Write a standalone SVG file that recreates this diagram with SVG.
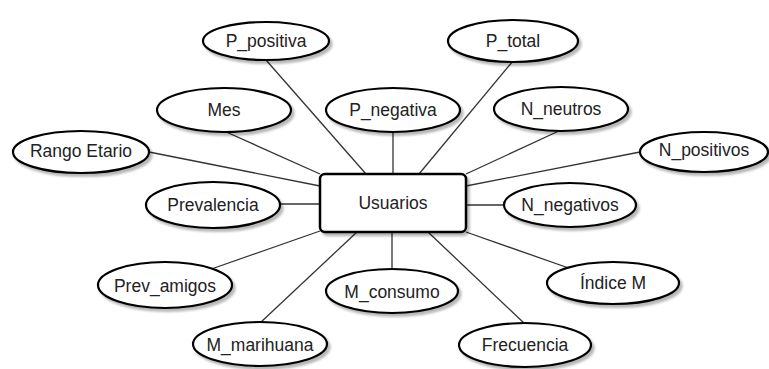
<svg xmlns="http://www.w3.org/2000/svg" width="769" height="369" viewBox="0 0 769 369">
  <style>
    .attr ellipse { fill: #ffffff; stroke: #000000; stroke-width: 2.2; filter: url(#shadow); }
    .entity rect { fill: #ffffff; stroke: #000000; stroke-width: 2.5; filter: url(#shadow); }
    text { font-family: "Liberation Sans", Arial, sans-serif; font-size: 17.5px; fill: #222222; text-anchor: middle; dominant-baseline: central; }
    #connectors line { stroke: #333333; stroke-width: 1.3; }
  </style>
  <defs>
    <filter id="shadow" x="-20%" y="-30%" width="140%" height="160%">
      <feDropShadow dx="2.5" dy="3" stdDeviation="1.2" flood-color="#000000" flood-opacity="0.28"/>
    </filter>
  </defs>
  <rect x="0" y="0" width="769" height="369" fill="#ffffff"/>

  <g id="connectors">
    <line x1="266" y1="60" x2="366" y2="174"/>
    <line x1="513" y1="61" x2="419" y2="174"/>
    <line x1="393" y1="131" x2="393" y2="174"/>
    <line x1="224" y1="131" x2="320" y2="174"/>
    <line x1="149" y1="152" x2="320" y2="186"/>
    <line x1="561" y1="130" x2="466" y2="174"/>
    <line x1="640" y1="152" x2="466" y2="186"/>
    <line x1="280" y1="204" x2="320" y2="204"/>
    <line x1="466" y1="205" x2="504" y2="205"/>
    <line x1="320" y1="231" x2="200" y2="273"/>
    <line x1="357" y1="232" x2="260" y2="323"/>
    <line x1="392" y1="232" x2="392" y2="270"/>
    <line x1="428" y1="232" x2="525" y2="324"/>
    <line x1="466" y1="232" x2="580" y2="272"/>
  </g>

  <g id="usuarios" class="entity">
    <rect x="320" y="174" width="146" height="58" rx="5" ry="5"/>
    <text x="393" y="203">Usuarios</text>
  </g>

  <g id="p_positiva" class="attr">
    <ellipse cx="266" cy="41" rx="63" ry="19"/>
    <text x="266" y="41">P_positiva</text>
  </g>
  <g id="p_total" class="attr">
    <ellipse cx="513" cy="41" rx="65" ry="21"/>
    <text x="513" y="41">P_total</text>
  </g>
  <g id="mes" class="attr">
    <ellipse cx="224" cy="110" rx="67" ry="22"/>
    <text x="224" y="110">Mes</text>
  </g>
  <g id="p_negativa" class="attr">
    <ellipse cx="393" cy="110" rx="67" ry="22"/>
    <text x="393" y="110">P_negativa</text>
  </g>
  <g id="n_neutros" class="attr">
    <ellipse cx="561" cy="109" rx="67" ry="22"/>
    <text x="561" y="109">N_neutros</text>
  </g>
  <g id="rango_etario" class="attr">
    <ellipse cx="81" cy="152" rx="68" ry="21"/>
    <text x="81" y="151">Rango Etario</text>
  </g>
  <g id="n_positivos" class="attr">
    <ellipse cx="704" cy="152" rx="64" ry="20"/>
    <text x="704" y="150">N_positivos</text>
  </g>
  <g id="prevalencia" class="attr">
    <ellipse cx="213" cy="205" rx="67" ry="23"/>
    <text x="213" y="205">Prevalencia</text>
  </g>
  <g id="n_negativos" class="attr">
    <ellipse cx="570" cy="205" rx="66" ry="22"/>
    <text x="570" y="205">N_negativos</text>
  </g>
  <g id="prev_amigos" class="attr">
    <ellipse cx="165" cy="285" rx="67" ry="23"/>
    <text x="165" y="286">Prev_amigos</text>
  </g>
  <g id="m_consumo" class="attr">
    <ellipse cx="392" cy="291" rx="66" ry="22"/>
    <text x="392" y="292">M_consumo</text>
  </g>
  <g id="indice_m" class="attr">
    <ellipse cx="613" cy="283" rx="66" ry="21"/>
    <text x="613" y="283">Índice M</text>
  </g>
  <g id="m_marihuana" class="attr">
    <ellipse cx="260" cy="344" rx="67" ry="22"/>
    <text x="260" y="345">M_marihuana</text>
  </g>
  <g id="frecuencia" class="attr">
    <ellipse cx="525" cy="345" rx="66" ry="22"/>
    <text x="525" y="345">Frecuencia</text>
  </g>
</svg>
